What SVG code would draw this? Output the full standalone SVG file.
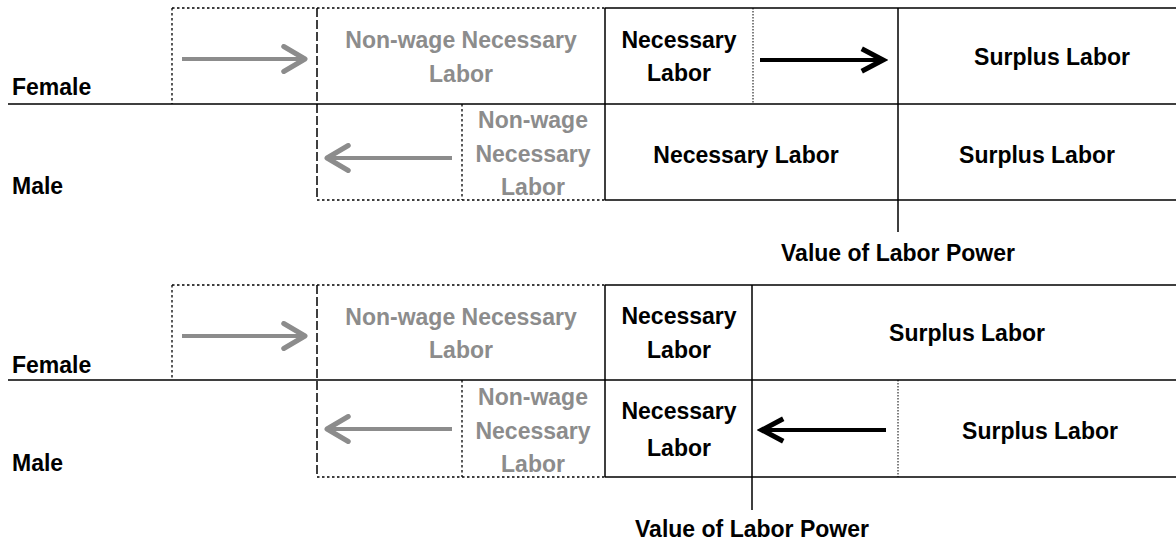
<svg xmlns="http://www.w3.org/2000/svg" width="1176" height="542" viewBox="0 0 1176 542">
<style>
.t{font-family:"Liberation Sans",Arial,sans-serif;font-weight:bold;font-size:23px;fill:#000;text-anchor:middle;dominant-baseline:central}
.g{fill:#8c8c8c}
.l{text-anchor:start}
.solid{stroke:#000;stroke-width:1.5;fill:none}
.dot{stroke:#000;stroke-width:1.3;stroke-dasharray:2.5 2.5;fill:none}
.fine{stroke:#000;stroke-width:1;stroke-dasharray:1.5 1.5;fill:none}
.dash{stroke:#000;stroke-width:1.5;stroke-dasharray:9 3;fill:none}
.ag{stroke:#8c8c8c;stroke-width:4;fill:none}
.ab{stroke:#000;stroke-width:4;fill:none}
</style>
<defs>
<marker id="hg" markerUnits="userSpaceOnUse" orient="auto" markerWidth="30" markerHeight="30" refX="20" refY="12" viewBox="0 0 24 24">
<path d="M3,2 L20,12 L3,22" stroke="#8c8c8c" stroke-width="4" fill="none" stroke-linecap="round" stroke-linejoin="round"/>
</marker>
<marker id="hb" markerUnits="userSpaceOnUse" orient="auto" markerWidth="30" markerHeight="30" refX="20" refY="12" viewBox="0 0 24 24">
<path d="M3,3 L20,12 L3,21" stroke="#000" stroke-width="4" fill="none" stroke-linejoin="miter"/>
</marker>
</defs>

<g id="frame-top">
<path class="dot" d="M172,8 H605 M172,8 V104"/>
<path class="dot" d="M462,104 V200 M317,200 H605"/>
<path class="dash" d="M317,8 V200"/>
<path class="solid" d="M605,8 H1176 M8,104 H1176 M605,200 H1176 M605,8 V200 M898,8 V232"/>
<path class="fine" d="M753,8 V104"/>
</g>

<g id="frame-bottom">
<path class="dot" d="M172,285 H605 M172,285 V380"/>
<path class="dot" d="M462,380 V477 M317,477 H605"/>
<path class="dash" d="M317,285 V477"/>
<path class="solid" d="M605,285 H1176 M8,380 H1176 M605,477 H1176 M605,285 V477 M752,285 V510"/>
<path class="fine" d="M898,380 V477"/>
</g>

<g id="connectors">
<line class="ag" x1="182" y1="59" x2="305" y2="59" marker-end="url(#hg)"/>
<line class="ag" x1="452" y1="158" x2="327" y2="158" marker-end="url(#hg)"/>
<line class="ab" x1="760" y1="60" x2="883" y2="60" marker-end="url(#hb)"/>
<line class="ag" x1="182" y1="336" x2="305" y2="336" marker-end="url(#hg)"/>
<line class="ag" x1="452" y1="429" x2="327" y2="429" marker-end="url(#hg)"/>
<line class="ab" x1="886" y1="430" x2="762" y2="430" marker-end="url(#hb)"/>
</g>

<g id="top-female-label"><text class="t l" x="12" y="87">Female</text></g>
<g id="top-male-label"><text class="t l" x="12" y="186">Male</text></g>
<g id="top-female-nonwage"><text class="t g" x="461" y="40">Non-wage Necessary</text><text class="t g" x="461" y="74">Labor</text></g>
<g id="top-female-necessary"><text class="t" x="679" y="40">Necessary</text><text class="t" x="679" y="73">Labor</text></g>
<g id="top-female-surplus"><text class="t" x="1052" y="57">Surplus Labor</text></g>
<g id="top-male-nonwage"><text class="t g" x="533" y="120">Non-wage</text><text class="t g" x="533" y="154">Necessary</text><text class="t g" x="533" y="187">Labor</text></g>
<g id="top-male-necessary"><text class="t" x="746" y="155">Necessary Labor</text></g>
<g id="top-male-surplus"><text class="t" x="1037" y="155">Surplus Labor</text></g>
<g id="top-value"><text class="t" x="898" y="253">Value of Labor Power</text></g>

<g id="bottom-female-label"><text class="t l" x="12" y="365">Female</text></g>
<g id="bottom-male-label"><text class="t l" x="12" y="463">Male</text></g>
<g id="bottom-female-nonwage"><text class="t g" x="461" y="317">Non-wage Necessary</text><text class="t g" x="461" y="350">Labor</text></g>
<g id="bottom-female-necessary"><text class="t" x="679" y="316">Necessary</text><text class="t" x="679" y="350">Labor</text></g>
<g id="bottom-female-surplus"><text class="t" x="967" y="333">Surplus Labor</text></g>
<g id="bottom-male-nonwage"><text class="t g" x="533" y="397">Non-wage</text><text class="t g" x="533" y="431">Necessary</text><text class="t g" x="533" y="464">Labor</text></g>
<g id="bottom-male-necessary"><text class="t" x="679" y="411">Necessary</text><text class="t" x="679" y="448">Labor</text></g>
<g id="bottom-male-surplus"><text class="t" x="1040" y="431">Surplus Labor</text></g>
<g id="bottom-value"><text class="t" x="752" y="529">Value of Labor Power</text></g>
</svg>
